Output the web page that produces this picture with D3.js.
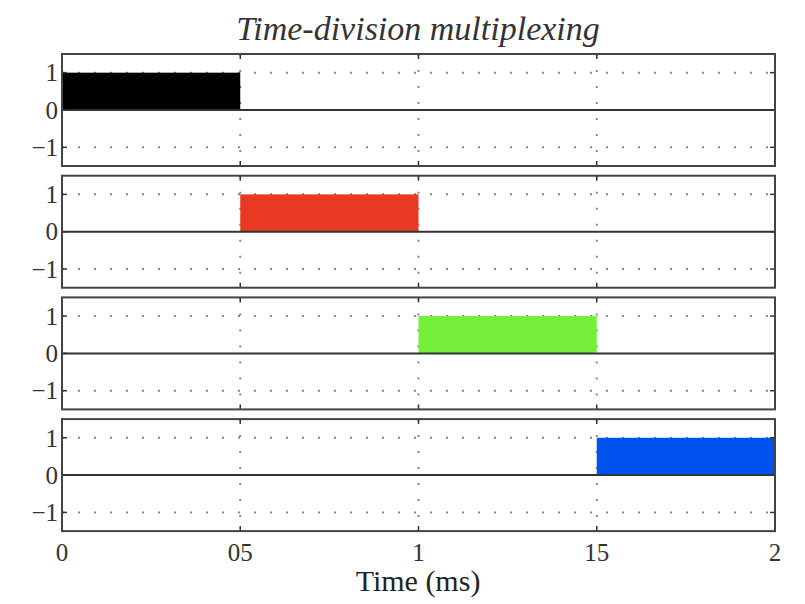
<!DOCTYPE html>
<html>
<head>
<meta charset="utf-8">
<script src="https://cdn.jsdelivr.net/npm/d3@7"></script>
<style>
  body { margin: 0; background: #fff; }
  text { font-family: "Liberation Serif", "DejaVu Serif", serif; }
</style>
</head>
<body>
<script>
// time slots (ms) and one channel per panel
var slotEdges = [0, 0.5, 1, 1.5, 2];
var channels = ['ch1', 'ch2', 'ch3', 'ch4'];
var ch1 = [1, 0, 0, 0],
    ch2 = [0, 1, 0, 0],
    ch3 = [0, 0, 1, 0],
    ch4 = [0, 0, 0, 1];
var channelValues = [ch1, ch2, ch3, ch4];
var channelColors = ['#000000', '#e83a22', '#76ee3c', '#0052ee'];

var xTicks = [0, 0.5, 1, 1.5, 2];
var xTickLabels = ['0', '05', '1', '15', '2'];
var yTicks = [-1, 0, 1];
var yTickLabels = ['\u22121', '0', '1'];

var width = 805, height = 604;
var left = 62, right = 775;
var panelTop = 54, panelStep = 121.7, panelH = 112;

var svg = d3.select('body').append('svg')
  .attr('width', width)
  .attr('height', height);

var x = d3.scaleLinear().domain([0, 2]).range([left, right]);

// title
svg.append('text')
  .attr('x', 418).attr('y', 40)
  .attr('text-anchor', 'middle')
  .style('font-style', 'italic')
  .style('font-size', '34px')
  .attr('fill', '#333')
  .text('Time-division multiplexing');

channels.forEach(function(name, i) {
  var top = panelTop + i * panelStep;
  var y = d3.scaleLinear().domain([-1.5, 1.5]).range([top + panelH, top]);
  var g = svg.append('g').attr('class', 'panel ' + name);

  // dotted grid
  g.selectAll('.vgrid')
    .data(xTicks.slice(1, -1))
    .enter().append('line')
    .attr('x1', function(d) { return x(d); })
    .attr('x2', function(d) { return x(d); })
    .attr('y1', top).attr('y2', top + panelH)
    .attr('stroke', '#888').attr('stroke-width', 2)
    .attr('stroke-dasharray', '2,14');
  g.selectAll('.hgrid')
    .data([-1, 1])
    .enter().append('line')
    .attr('x1', left).attr('x2', right)
    .attr('y1', function(d) { return y(d); })
    .attr('y2', function(d) { return y(d); })
    .attr('stroke', '#888').attr('stroke-width', 2)
    .attr('stroke-dasharray', '2,14');

  // signal fill
  var vals = channelValues[i];
  g.selectAll('.slot')
    .data(vals.map(function(v, k) { return { v: v, t0: slotEdges[k], t1: slotEdges[k + 1] }; })
      .filter(function(d) { return d.v !== 0; }))
    .enter().append('rect')
    .attr('x', function(d) { return x(d.t0); })
    .attr('width', function(d) { return x(d.t1) - x(d.t0); })
    .attr('y', function(d) { return y(Math.max(0, d.v)); })
    .attr('height', function(d) { return Math.abs(y(d.v) - y(0)); })
    .attr('fill', channelColors[i]);

  // zero line
  g.append('line')
    .attr('x1', left).attr('x2', right)
    .attr('y1', y(0)).attr('y2', y(0))
    .attr('stroke', '#333').attr('stroke-width', 2);

  // inward ticks
  var tl = 5;
  xTicks.forEach(function(t) {
    g.append('line').attr('x1', x(t)).attr('x2', x(t))
      .attr('y1', top).attr('y2', top + tl)
      .attr('stroke', '#333').attr('stroke-width', 1.5);
    g.append('line').attr('x1', x(t)).attr('x2', x(t))
      .attr('y1', top + panelH).attr('y2', top + panelH - tl)
      .attr('stroke', '#333').attr('stroke-width', 1.5);
  });
  yTicks.forEach(function(t) {
    g.append('line').attr('x1', left).attr('x2', left + tl)
      .attr('y1', y(t)).attr('y2', y(t))
      .attr('stroke', '#333').attr('stroke-width', 1.5);
    g.append('line').attr('x1', right).attr('x2', right - tl)
      .attr('y1', y(t)).attr('y2', y(t))
      .attr('stroke', '#333').attr('stroke-width', 1.5);
  });

  // frame
  g.append('rect')
    .attr('x', left).attr('y', top)
    .attr('width', right - left).attr('height', panelH)
    .attr('fill', 'none')
    .attr('stroke', '#444').attr('stroke-width', 2);

  // y tick labels
  g.selectAll('.ylab')
    .data(yTicks)
    .enter().append('text')
    .attr('x', left - 4)
    .attr('y', function(d) { return y(d); })
    .attr('dy', '0.35em')
    .attr('text-anchor', 'end')
    .style('font-size', '25px')
    .attr('fill', '#333')
    .text(function(d, k) { return yTickLabels[k]; });
});

// x tick labels under the last panel
var bottom = panelTop + 3 * panelStep + panelH;
svg.selectAll('.xlab')
  .data(xTicks)
  .enter().append('text')
  .attr('x', function(d) { return x(d); })
  .attr('y', bottom + 30)
  .attr('text-anchor', 'middle')
  .style('font-size', '25px')
  .attr('fill', '#333')
  .text(function(d, k) { return xTickLabels[k]; });

svg.append('text')
  .attr('x', 418).attr('y', bottom + 60)
  .attr('text-anchor', 'middle')
  .style('font-size', '30px')
  .attr('fill', '#222')
  .text('Time (ms)');
</script>
</body>
</html>
